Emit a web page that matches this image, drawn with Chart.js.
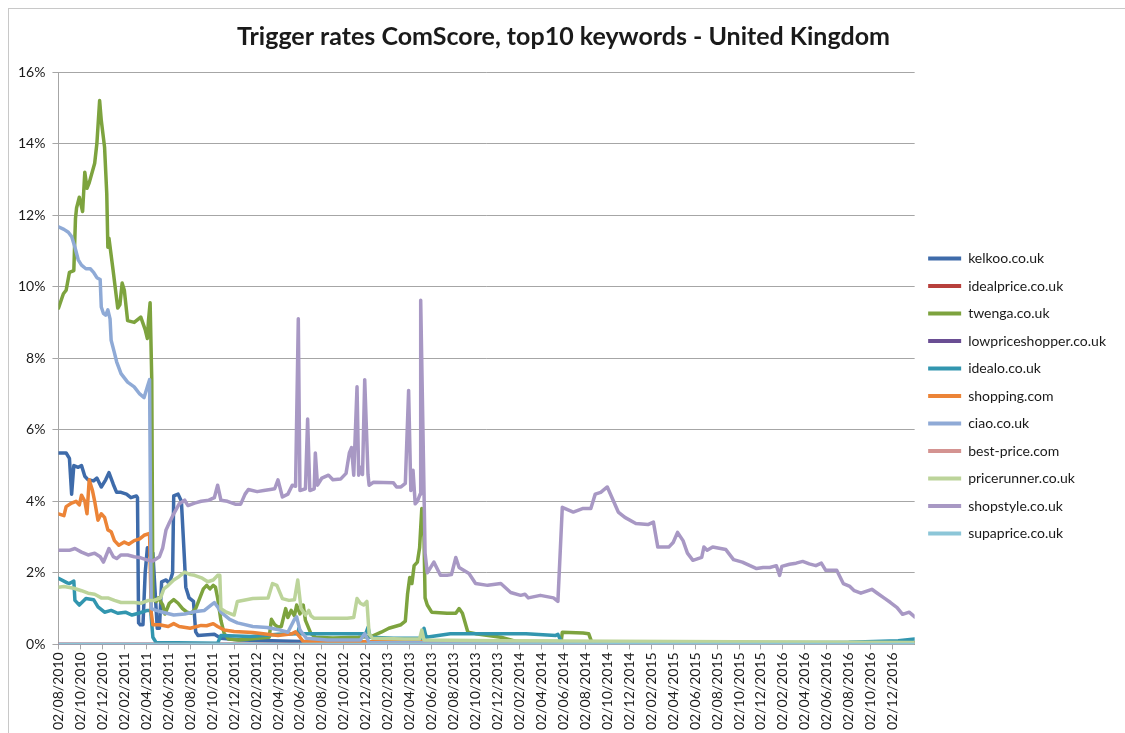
<!DOCTYPE html>
<html><head><meta charset="utf-8">
<script src="https://cdn.jsdelivr.net/npm/chart.js@4.4.1/dist/chart.umd.min.js"></script>
<style>
html,body{margin:0;padding:0;background:#fff;overflow:hidden;width:1125px;height:733px;}
#frame{position:absolute;left:8px;top:8px;width:1200px;height:800px;border:1px solid #C8C8C8;box-sizing:border-box;}
#wrap{position:absolute;left:0;top:0;width:1125px;height:733px;}
</style></head>
<body><div id="frame"></div><div id="wrap"><canvas id="c" width="1125" height="733"></canvas></div>
<script>
// x = months since 02/08/2010, y = trigger rate in %
const xTickLabels = ['02/08/2010','02/10/2010','02/12/2010','02/02/2011','02/04/2011','02/06/2011','02/08/2011','02/10/2011','02/12/2011','02/02/2012','02/04/2012','02/06/2012','02/08/2012','02/10/2012','02/12/2012','02/02/2013','02/04/2013','02/06/2013','02/08/2013','02/10/2013','02/12/2013','02/02/2014','02/04/2014','02/06/2014','02/08/2014','02/10/2014','02/12/2014','02/02/2015','02/04/2015','02/06/2015','02/08/2015','02/10/2015','02/12/2015','02/02/2016','02/04/2016','02/06/2016','02/08/2016','02/10/2016','02/12/2016'];
const yTickValues = [0,2,4,6,8,10,12,14,16];
const seriesNames = ['kelkoo.co.uk','idealprice.co.uk','twenga.co.uk','lowpriceshopper.co.uk','idealo.co.uk','shopping.com','ciao.co.uk','best-price.com','pricerunner.co.uk','shopstyle.co.uk','supaprice.co.uk'];
const seriesColors = ['#3E6BAA','#B8403C','#7DA33E','#6A4E93','#3296AF','#EC8437','#8FAAD6','#D49391','#BCD49A','#A898C4','#8CC6D8'];

const kelkoo = [[0,5.35],[0.7,5.35],[1.0,5.2],[1.2,4.2],[1.4,5.0],[1.8,4.95],[2.1,5.0],[2.4,4.7],[2.7,4.6],[3.2,4.57],[3.5,4.65],[3.9,4.4],[4.3,4.6],[4.6,4.8],[5.0,4.47],[5.3,4.25],[5.7,4.25],[6.2,4.2],[6.6,4.1],[7.1,4.15],[7.2,4.1],[7.3,0.6],[7.45,0.55],[7.7,0.55],[7.9,2.0],[8.1,2.7],[8.3,2.5],[8.6,2.55],[8.8,1.5],[9.0,0.45],[9.2,0.45],[9.4,1.75],[9.8,1.8],[10.1,1.7],[10.4,2.0],[10.5,4.15],[10.9,4.2],[11.2,4.0],[11.5,2.25],[11.6,1.6],[11.9,1.3],[12.3,1.2],[12.5,0.35],[12.7,0.25],[14.2,0.28],[14.8,0.17],[16.6,0.12],[19.4,0.1],[22.1,0.08],[29.4,0.06],[40.3,0.05],[58.5,0.04],[78,0.05]];
const idealprice = [[0,0],[78,0]];
const twenga = [[0,9.4],[0.45,9.8],[0.7,9.9],[1.0,10.4],[1.4,10.45],[1.55,11.9],[1.65,12.2],[1.9,12.5],[2.2,12.1],[2.4,13.2],[2.6,12.75],[2.8,12.9],[3.3,13.45],[3.5,14.0],[3.75,15.2],[3.9,14.65],[4.2,13.9],[4.4,12.6],[4.5,11.1],[4.6,11.35],[5.0,10.4],[5.4,9.4],[5.6,9.5],[5.8,10.1],[6.0,9.9],[6.3,9.05],[6.9,9.0],[7.3,9.1],[7.5,9.15],[7.9,8.8],[8.1,8.55],[8.2,9.05],[8.35,9.55],[8.5,7.4],[8.6,1.3],[8.9,1.2],[9.1,1.3],[9.5,1.1],[9.7,0.85],[10.1,1.15],[10.5,1.25],[10.9,1.15],[11.3,1.0],[11.7,0.9],[12.1,0.87],[12.5,1.0],[13.2,1.55],[13.5,1.65],[13.8,1.55],[14.1,1.65],[14.3,1.6],[14.5,1.3],[14.8,0.67],[15.1,0.3],[15.5,0.15],[16.4,0.12],[19.2,0.2],[19.4,0.7],[19.7,0.55],[20.0,0.48],[20.3,0.5],[20.7,1.0],[20.9,0.75],[21.2,0.95],[21.5,0.8],[21.7,1.1],[22.0,0.85],[22.3,1.1],[22.5,0.67],[23.0,0.3],[23.4,0.2],[25.0,0.18],[27.3,0.2],[28.5,0.22],[29.4,0.34],[30.1,0.45],[31.2,0.55],[31.6,0.65],[31.8,1.4],[32.0,1.87],[32.2,1.7],[32.4,2.2],[32.7,2.3],[32.9,2.7],[33.1,3.8],[33.3,3.0],[33.4,1.3],[33.6,1.1],[34.0,0.9],[35.4,0.87],[36.2,0.87],[36.5,1.0],[36.8,0.87],[37.3,0.34],[38.0,0.3],[40.3,0.2],[41.7,0.08],[45.8,0.08],[45.9,0.34],[47.8,0.32],[48.3,0.3],[48.6,0.05],[78,0.03]];
const lowpriceshopper = [[0,0],[78,0]];
const idealo = [[0,1.85],[0.8,1.72],[1.0,1.7],[1.4,1.77],[1.5,1.23],[1.9,1.1],[2.5,1.28],[3.2,1.25],[3.6,1.05],[4.2,0.9],[4.8,0.95],[5.4,0.87],[6.1,0.9],[6.7,0.82],[7.3,0.87],[8.1,0.95],[8.4,0.95],[8.6,0.2],[8.9,0.05],[14.5,0.03],[14.8,0.25],[17.5,0.22],[20.0,0.28],[21.8,0.3],[21.9,0.45],[22.1,0.3],[25.0,0.3],[28.0,0.3],[28.2,0.48],[28.4,0.2],[30.5,0.17],[33.2,0.17],[33.3,0.45],[33.5,0.2],[34.6,0.25],[35.7,0.3],[39.0,0.3],[42.6,0.3],[45.3,0.25],[45.5,0.28],[45.8,0.08],[50.0,0.05],[72.0,0.06],[76.5,0.1],[78,0.15]];
const shopping = [[0,3.65],[0.5,3.6],[0.7,3.85],[1.2,3.95],[1.6,4.0],[1.9,3.9],[2.1,4.17],[2.4,4.0],[2.6,3.65],[2.8,4.6],[3.1,4.3],[3.3,4.0],[3.6,3.47],[3.9,3.65],[4.2,3.55],[4.5,3.2],[4.8,3.15],[5.1,2.9],[5.5,2.77],[6.0,2.86],[6.4,2.8],[6.9,2.9],[7.4,2.95],[7.8,3.05],[8.3,3.1],[8.45,0.9],[8.6,0.55],[9.2,0.55],[10.0,0.5],[10.5,0.58],[11.0,0.5],[12.0,0.45],[13.0,0.53],[13.5,0.52],[14.1,0.58],[14.5,0.5],[15.1,0.4],[16.0,0.36],[17.7,0.33],[20.0,0.25],[21.3,0.3],[21.6,0.35],[22.0,0.2],[22.3,0.08],[78,0.03]];
const ciao = [[0,11.67],[0.5,11.6],[0.9,11.52],[1.2,11.4],[1.5,11.1],[1.8,10.75],[2.1,10.6],[2.5,10.5],[2.9,10.5],[3.2,10.4],[3.5,10.25],[3.8,10.2],[3.9,9.43],[4.1,9.25],[4.3,9.2],[4.5,9.35],[4.7,9.1],[4.8,8.5],[5.1,8.15],[5.3,7.9],[5.7,7.57],[6.3,7.33],[6.9,7.2],[7.4,7.0],[7.8,6.9],[8.1,7.2],[8.3,7.4],[8.45,1.0],[8.9,0.95],[9.5,0.9],[10.5,0.82],[11.5,0.85],[12.5,0.92],[13.3,0.95],[13.9,1.1],[14.2,1.17],[14.5,1.05],[14.8,0.9],[15.6,0.7],[16.3,0.6],[17.7,0.5],[19.0,0.47],[20.2,0.4],[20.9,0.34],[21.5,0.7],[21.7,0.77],[22.0,0.4],[22.6,0.17],[24.5,0.12],[27.5,0.12],[27.9,0.3],[28.3,0.05],[78,0.02]];
const bestprice = [[0,0],[78,0]];
const pricerunner = [[0,1.6],[0.5,1.62],[1.4,1.57],[2.1,1.5],[2.7,1.43],[3.3,1.4],[3.9,1.3],[4.5,1.3],[5.1,1.23],[5.7,1.17],[6.9,1.17],[7.5,1.15],[8.2,1.23],[8.7,1.23],[9.3,1.3],[9.6,1.55],[10.0,1.65],[10.5,1.8],[11.0,1.9],[11.5,2.02],[12.0,1.95],[12.4,1.93],[13.1,1.85],[13.6,1.75],[14.1,1.8],[14.5,1.93],[14.7,1.93],[14.8,1.0],[15.3,0.9],[16.0,0.82],[16.3,1.2],[17.7,1.28],[19.1,1.3],[19.5,1.7],[19.9,1.65],[20.4,1.28],[21.0,1.23],[21.5,1.25],[21.8,1.8],[22.1,1.0],[22.5,0.82],[22.8,0.95],[23.0,0.8],[23.3,0.73],[26.3,0.73],[26.9,0.75],[27.2,1.28],[27.5,1.15],[27.8,1.1],[28.1,1.2],[28.3,0.3],[28.6,0.17],[31.5,0.15],[32.9,0.15],[33.1,0.4],[33.3,0.12],[40,0.1],[78,0.05]];
const shopstyle = [[0,2.63],[1.0,2.63],[1.5,2.68],[2.1,2.58],[2.7,2.5],[3.3,2.55],[3.8,2.45],[4.1,2.3],[4.3,2.45],[4.6,2.68],[5.0,2.45],[5.3,2.4],[5.7,2.5],[6.3,2.5],[6.9,2.45],[7.5,2.42],[8.2,2.35],[8.6,2.33],[9.2,2.45],[9.5,2.7],[9.8,3.2],[10.1,3.4],[10.5,3.65],[11.0,3.93],[11.5,4.03],[11.8,3.88],[12.4,3.95],[13.0,4.0],[13.7,4.03],[14.2,4.1],[14.5,4.45],[14.8,4.03],[15.4,4.0],[16.1,3.92],[16.6,3.92],[17.0,4.2],[17.3,4.33],[18.1,4.27],[18.7,4.3],[19.3,4.33],[19.7,4.35],[20.0,4.6],[20.4,4.12],[20.9,4.2],[21.3,4.45],[21.6,4.42],[21.85,9.1],[22.0,4.3],[22.5,4.35],[22.7,6.3],[22.9,4.3],[23.3,4.35],[23.4,5.35],[23.6,4.45],[24.0,4.65],[24.6,4.73],[25.0,4.6],[25.7,4.62],[26.2,4.78],[26.5,5.35],[26.7,5.5],[26.9,4.73],[27.2,7.2],[27.35,4.73],[27.5,4.95],[27.7,4.75],[27.9,7.4],[28.2,4.75],[28.3,4.45],[28.7,4.53],[30.5,4.52],[30.8,4.4],[31.2,4.4],[31.6,4.5],[31.9,7.1],[32.1,4.3],[32.3,4.87],[32.5,3.93],[32.7,4.0],[32.95,4.2],[33.0,9.62],[33.4,2.55],[33.6,2.0],[34.2,2.3],[34.8,1.93],[35.4,1.93],[35.8,1.95],[36.2,2.43],[36.5,2.15],[37.4,1.98],[38.0,1.7],[39.1,1.65],[40.3,1.7],[41.2,1.45],[42.1,1.37],[42.5,1.4],[42.8,1.3],[43.9,1.37],[45.1,1.3],[45.5,1.2],[45.9,3.83],[46.9,3.7],[47.8,3.8],[48.5,3.8],[48.9,4.2],[49.4,4.25],[50.0,4.4],[50.5,4.05],[51.0,3.7],[51.6,3.55],[52.6,3.38],[53.7,3.35],[54.2,3.42],[54.6,2.72],[55.6,2.72],[56.0,2.85],[56.4,3.13],[56.9,2.9],[57.3,2.55],[57.8,2.35],[58.6,2.43],[58.8,2.72],[59.1,2.63],[59.6,2.72],[60.8,2.65],[61.5,2.37],[62.3,2.3],[63.0,2.2],[63.6,2.12],[64.2,2.15],[64.8,2.15],[65.4,2.2],[65.7,1.93],[65.9,2.18],[66.6,2.24],[67.2,2.27],[67.8,2.32],[68.4,2.25],[69.0,2.2],[69.5,2.27],[69.9,2.07],[70.9,2.07],[71.5,1.7],[72.1,1.62],[72.5,1.5],[73.1,1.43],[74.1,1.54],[74.6,1.43],[75.3,1.28],[75.8,1.17],[76.4,1.03],[76.9,0.84],[77.5,0.9],[78,0.77]];
const supaprice = [[0,0],[78,0]];

const seriesData = [kelkoo, idealprice, twenga, lowpriceshopper, idealo, shopping, ciao, bestprice, pricerunner, shopstyle, supaprice];
const FONT = 'Lato, "Open Sans", sans-serif';

const datasets = seriesNames.map((name, i) => ({
  label: name,
  data: seriesData[i].map(p => ({x: p[0], y: p[1]})),
  borderColor: seriesColors[i],
  backgroundColor: seriesColors[i],
  borderWidth: 3.5,
  pointRadius: 0,
  tension: 0,
  borderJoinStyle: 'round',
  borderCapStyle: 'round',
  order: -i
}));

new Chart(document.getElementById('c'), {
  type: 'line',
  data: { datasets },
  options: {
    responsive: false,
    animation: false,
    layout: { padding: { left: 11, right: 9, top: 0, bottom: 0 } },
    plugins: {
      tooltip: { enabled: false },
      title: {
        display: true,
        text: 'Trigger rates ComScore, top10 keywords - United Kingdom',
        color: '#1a1a1a',
        font: { family: FONT, size: 25, weight: 'bold' },
        padding: { top: 22, bottom: 20 }
      },
      legend: {
        position: 'right',
        align: 'center',
        title: { display: true, text: ' ', font: { size: 1 }, padding: { top: 58, bottom: 0 } },
        labels: {
          boxWidth: 33, boxHeight: 4, padding: 13.5,
          color: '#1a1a1a',
          font: { family: FONT, size: 14 },
          sort: (a, b) => a.datasetIndex - b.datasetIndex,
          generateLabels: (chart) => Chart.defaults.plugins.legend.labels.generateLabels(chart).map(l => Object.assign(l, { lineWidth: 0, fillStyle: l.strokeStyle }))
        }
      }
    },
    scales: {
      x: {
        type: 'linear',
        min: 0, max: 78,
        afterBuildTicks: (scale) => { scale.ticks = xTickLabels.map((_, i) => ({ value: i * 2 })); },
        grid: { display: true, drawOnChartArea: false, drawTicks: true, tickLength: 5, color: '#A6A6A6' },
        border: { display: true, color: '#A6A6A6' },
        ticks: {
          autoSkip: false, maxRotation: 90, minRotation: 90, padding: 3,
          color: '#1a1a1a', font: { family: FONT, size: 14 },
          callback: (v) => xTickLabels[Math.round(v / 2)] || ''
        }
      },
      y: {
        min: 0, max: 16,
        afterBuildTicks: (scale) => { scale.ticks = yTickValues.map(v => ({ value: v })); },
        grid: { color: '#A6A6A6', tickLength: 6, drawTicks: true },
        border: { display: true, color: '#A6A6A6' },
        ticks: { padding: 7, color: '#1a1a1a', font: { family: FONT, size: 14 }, callback: (v) => v + '%' }
      }
    }
  }
});
</script>
</body></html>
